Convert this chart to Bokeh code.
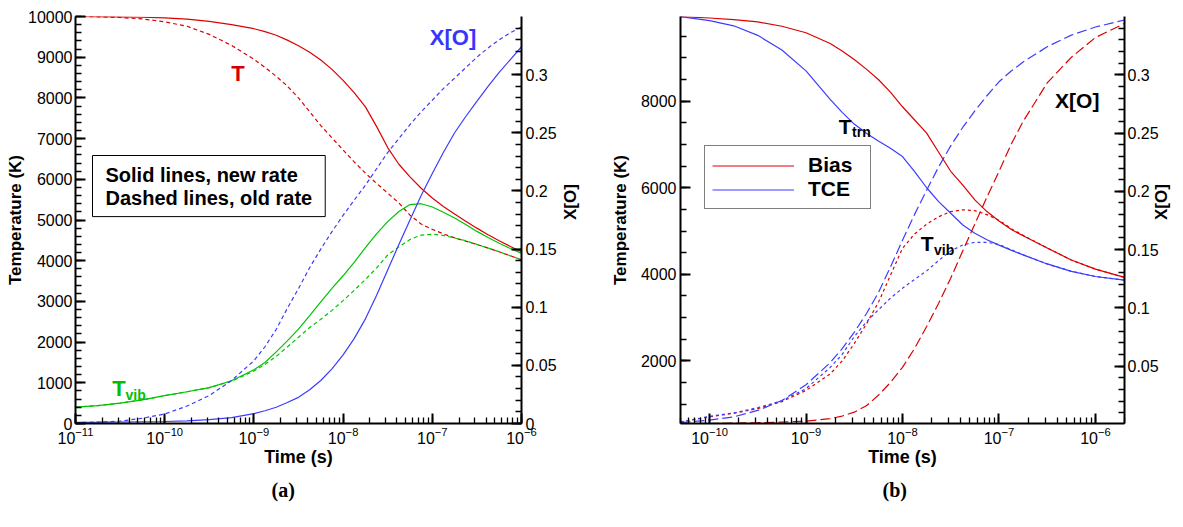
import math
from bokeh.plotting import figure
from bokeh.models import (Range1d, LinearAxis, SingleIntervalTicker, NumeralTickFormatter,
                          Label, Legend, LegendItem, Title)
from bokeh.layouts import row
from bokeh.embed import file_html
from bokeh.resources import INLINE

# ---------------- data: panel (a) ----------------
time_a = [1e-11, 1.78e-11, 3.16e-11, 5.62e-11, 1e-10, 1.78e-10, 3.16e-10, 5.62e-10,
          1e-9, 1.33e-9, 1.78e-9, 2.37e-9, 3.16e-9, 4.22e-9, 5.62e-9, 7.5e-9,
          1e-8, 1.33e-8, 1.78e-8, 2.37e-8, 3.16e-8, 4.22e-8, 5.62e-8, 7.5e-8,
          1e-7, 1.33e-7, 1.78e-7, 2.37e-7, 3.16e-7, 4.22e-7, 5.62e-7, 7.5e-7, 1e-6]
T_new = [10000, 9998, 9992, 9982, 9966, 9935, 9880, 9800,
         9700, 9630, 9540, 9420, 9280, 9120, 8930, 8700,
         8430, 8130, 7780, 7300, 6780, 6370, 6060, 5780,
         5540, 5330, 5150, 4970, 4800, 4640, 4490, 4350, 4220]
T_old = [10000, 9993, 9975, 9940, 9870, 9760, 9560, 9290,
         8950, 8750, 8530, 8290, 8000, 7660, 7320, 7020,
         6720, 6430, 6150, 5900, 5660, 5420, 5120, 4900,
         4770, 4660, 4560, 4480, 4400, 4310, 4220, 4120, 4020]
Tvib_new = [400, 440, 500, 580, 685, 780, 880, 1050,
            1320, 1500, 1760, 2030, 2320, 2650, 2990, 3320,
            3630, 3960, 4320, 4660, 4960, 5210, 5380, 5400,
            5320, 5190, 5050, 4890, 4720, 4570, 4430, 4300, 4180]
Tvib_old = [400, 440, 500, 580, 685, 780, 880, 1040,
            1290, 1450, 1650, 1880, 2120, 2360, 2560, 2780,
            3020, 3270, 3540, 3820, 4140, 4340, 4520, 4630,
            4650, 4620, 4560, 4490, 4400, 4310, 4220, 4120, 4020]
XO_new = [0.001, 0.0011, 0.0013, 0.0015, 0.0017, 0.0023, 0.0033, 0.005,
          0.0085, 0.011, 0.014, 0.018, 0.0225, 0.029, 0.037, 0.047,
          0.059, 0.073, 0.090, 0.110, 0.132, 0.154, 0.175, 0.196,
          0.215, 0.233, 0.250, 0.264, 0.277, 0.290, 0.302, 0.313, 0.324]
XO_old = [0.0008, 0.0012, 0.002, 0.0045, 0.0082, 0.015, 0.024, 0.037,
          0.054, 0.066, 0.081, 0.099, 0.116, 0.134, 0.150, 0.165,
          0.179, 0.192, 0.205, 0.219, 0.233, 0.245, 0.257, 0.268,
          0.278, 0.288, 0.297, 0.306, 0.315, 0.323, 0.330, 0.336, 0.341]

# ---------------- data: panel (b) ----------------
time_b = [5e-11, 1e-10, 1.78e-10, 3.16e-10, 5.62e-10, 1e-9, 1.78e-9, 2.37e-9, 3.16e-9,
          4.22e-9, 5.62e-9, 7.5e-9, 1e-8, 1.33e-8, 1.78e-8, 2.37e-8, 3.16e-8, 4.22e-8,
          5.62e-8, 7.5e-8, 1e-7, 1.33e-7, 1.78e-7, 3.16e-7, 5.62e-7, 1e-6, 2e-6]
Ttrn_bias = [9950, 9920, 9885, 9830, 9730, 9580, 9330, 9160, 8960,
             8740, 8500, 8210, 7870, 7570, 7260, 6820, 6380, 6060,
             5720, 5450, 5230, 5040, 4890, 4610, 4330, 4120, 3930]
Ttrn_tce = [9950, 9860, 9740, 9520, 9180, 8700, 8040, 7740, 7470,
            7260, 7080, 6910, 6720, 6380, 6000, 5680, 5410, 5140,
            4950, 4800, 4674, 4560, 4450, 4240, 4070, 3950, 3865]
Tvib_bias = [590, 710, 790, 900, 1060, 1320, 1700, 2000, 2400,
             2850, 3350, 3980, 4600, 4930, 5160, 5330, 5450, 5490,
             5470, 5380, 5250, 5060, 4900, 4610, 4330, 4120, 3930]
Tvib_tce = [590, 720, 800, 920, 1080, 1360, 1850, 2150, 2560,
            2900, 3180, 3450, 3680, 3880, 4080, 4320, 4540, 4680,
            4740, 4740, 4690, 4570, 4450, 4240, 4070, 3950, 3865]
XO_bias = [0.0003, 0.0008, 0.0011, 0.0015, 0.002, 0.0028, 0.005, 0.0072, 0.0105,
           0.016, 0.025, 0.036, 0.049, 0.065, 0.084, 0.104, 0.1255, 0.149,
           0.172, 0.195, 0.217, 0.240, 0.260, 0.293, 0.315, 0.332, 0.344]
XO_tce = [0.0015, 0.0037, 0.0065, 0.012, 0.0205, 0.034, 0.053, 0.065, 0.079,
          0.095, 0.113, 0.135, 0.158, 0.180, 0.201, 0.221, 0.239, 0.255,
          0.269, 0.282, 0.294, 0.303, 0.311, 0.324, 0.334, 0.341, 0.347]

FONT = "Liberation Sans"
RED = "#dd0000"
BLUE = "#3c3cff"
GREEN = "#00c400"


def style_axis(ax, label_standoff=4, title_standoff=0, title_size="17px"):
    ax.axis_line_color = "black"
    ax.axis_line_width = 2
    ax.major_tick_in = 10
    ax.major_tick_out = 0
    ax.minor_tick_in = 6
    ax.minor_tick_out = 0
    ax.major_tick_line_width = 2
    ax.minor_tick_line_width = 1.3
    ax.major_label_text_font = FONT
    ax.major_label_text_font_size = "16px"
    ax.major_label_text_color = "black"
    ax.major_label_standoff = label_standoff
    ax.axis_label_text_font = FONT
    ax.axis_label_text_font_size = title_size
    ax.axis_label_text_font_style = "bold"
    ax.axis_label_text_color = "black"
    ax.axis_label_standoff = title_standoff


def make_fig(width, x_range, y_range, min_left, min_right):
    p = figure(width=width, height=527, x_axis_type="log",
               x_range=x_range, y_range=y_range,
               output_backend="svg", toolbar_location=None,
               min_border_left=min_left, min_border_right=min_right,
               min_border_top=16, min_border_bottom=104)
    p.outline_line_color = None
    p.grid.visible = False
    p.background_fill_color = "white"
    p.border_fill_color = "white"
    p.xaxis.axis_label = "Time (s)"
    p.yaxis.axis_label = "Temperature (K)"
    style_axis(p.xaxis[0], label_standoff=3, title_standoff=0, title_size="18px")
    return p


def big_label(p, x, y, text, color, size="22px", align="left", baseline="alphabetic"):
    p.add_layout(Label(x=x, y=y, text=text, text_color=color, text_font=FONT,
                       text_font_size=size, text_font_style="bold",
                       text_align=align, text_baseline=baseline))


def panel_tag(p, text, offset):
    p.add_layout(Title(text=text, align="left", offset=offset, standoff=14,
                       text_font="Liberation Serif", text_font_size="20px",
                       text_font_style="bold", text_color="black"), "below")


# ================= panel (a) =================
p1 = make_fig(600, Range1d(1e-11, 1e-6), Range1d(0, 10000), 75, 79)
style_axis(p1.yaxis[0], label_standoff=3, title_standoff=0)
p1.yaxis[0].ticker = SingleIntervalTicker(interval=1000, num_minor_ticks=5)
p1.extra_y_ranges = {"xo": Range1d(0, 0.35)}
ax1r = LinearAxis(y_range_name="xo", axis_label="X[O]",
                  ticker=SingleIntervalTicker(interval=0.05, num_minor_ticks=5),
                  formatter=NumeralTickFormatter(format="0.[00]"))
style_axis(ax1r, label_standoff=4, title_standoff=11)
ax1r.axis_label_orientation = math.pi / 2
p1.add_layout(ax1r, "right")

p1.line(time_a, T_new, color=RED, line_width=1.2)
p1.line(time_a, T_old, color=RED, line_width=1.2, line_dash="4 3")
p1.line(time_a, Tvib_new, color=GREEN, line_width=1.2)
p1.line(time_a, Tvib_old, color=GREEN, line_width=1.2, line_dash="4 3")
p1.line(time_a, XO_new, color=BLUE, line_width=1.2, y_range_name="xo")
p1.line(time_a, XO_old, color=BLUE, line_width=1.2, line_dash="4 3", y_range_name="xo")

big_label(p1, 6.64e-10, 8600, "T", "#d40000", align="center", baseline="middle")
big_label(p1, 1.71e-7, 9484, "X[O]", "#3535ff", align="center", baseline="middle")
big_label(p1, 2.58e-11, 853, "T", "#00c000")
big_label(p1, 3.64e-11, 688, "vib", "#00c000", size="14px")

p1.add_layout(Label(x=17, y=268, x_units="screen", y_units="screen",
                    text="Solid lines, new rate\nDashed lines, old rate",
                    text_font=FONT, text_font_size="20px", text_font_style="bold",
                    text_color="black", text_align="left", text_baseline="top",
                    text_line_height=1.05,
                    border_line_color="black", border_line_width=1,
                    background_fill_color="white",
                    padding=dict(left=13, right=13, top=8, bottom=8)))
panel_tag(p1, "(a)", 196)

# ================= panel (b) =================
p2 = make_fig(583, Range1d(5e-11, 2e-6), Range1d(555, 9955), 80, 55)
style_axis(p2.yaxis[0], label_standoff=4, title_standoff=8)
p2.yaxis[0].ticker = SingleIntervalTicker(interval=2000, num_minor_ticks=4)
p2.extra_y_ranges = {"xo": Range1d(0.0008, 0.35)}
ax2r = LinearAxis(y_range_name="xo", axis_label="X[O]",
                  ticker=SingleIntervalTicker(interval=0.05, num_minor_ticks=5),
                  formatter=NumeralTickFormatter(format="0.[00]"))
style_axis(ax2r, label_standoff=3, title_standoff=0)
ax2r.axis_label_orientation = math.pi / 2
p2.add_layout(ax2r, "right")

r_bias = p2.line(time_b, Ttrn_bias, color=RED, line_width=1.2)
r_tce = p2.line(time_b, Ttrn_tce, color=BLUE, line_width=1.2)
p2.line(time_b, Tvib_bias, color=RED, line_width=1.2, line_dash="3 3")
p2.line(time_b, Tvib_tce, color=BLUE, line_width=1.2, line_dash="3 3")
p2.line(time_b, XO_bias, color=RED, line_width=1.2, line_dash="10 4", y_range_name="xo")
p2.line(time_b, XO_tce, color=BLUE, line_width=1.2, line_dash="10 4", y_range_name="xo")

big_label(p2, 2.19e-9, 7409, "T", "black", size="21px")
big_label(p2, 3.0e-9, 7277, "trn", "black", size="14px")
big_label(p2, 1.549e-8, 4713, "T", "black", size="21px")
big_label(p2, 2.12e-8, 4558, "vib", "black", size="14px")
big_label(p2, 6.47e-7, 8016, "X[O]", "black", size="21px", align="center", baseline="middle")

legend = Legend(items=[LegendItem(label="Bias", renderers=[r_bias]),
                       LegendItem(label="TCE", renderers=[r_tce])],
                location=(24, 214), orientation="vertical",
                label_text_font=FONT, label_text_font_size="21px",
                label_text_font_style="bold", label_text_color="black",
                glyph_width=82, glyph_height=21, label_height=21, label_width=55,
                label_standoff=14, padding=7, spacing=0, margin=0,
                border_line_color="black", border_line_width=1,
                background_fill_color="white", background_fill_alpha=1.0)
p2.add_layout(legend)
panel_tag(p2, "(b)", 202)

layout = row(p1, p2)
open("out.html", "w").write(file_html(layout, INLINE))
